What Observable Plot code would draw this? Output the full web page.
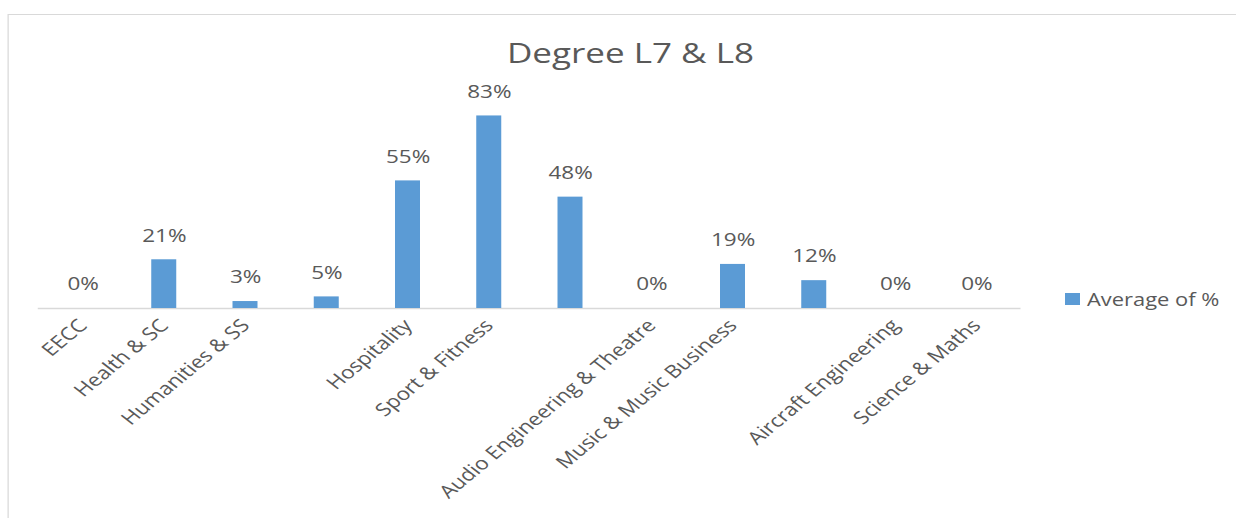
<!DOCTYPE html>
<html>
<head>
<meta charset="utf-8">
<script src="https://cdn.jsdelivr.net/npm/d3@7"></script>
<script src="https://cdn.jsdelivr.net/npm/@observablehq/plot@0.6"></script>
<style>
  html, body { margin: 0; padding: 0; background: #fff; overflow: hidden; width: 1236px; height: 518px; }
  #wrap { position: absolute; left: 0; top: 0; width: 989px; height: 518px;
          transform: scaleX(1.25); transform-origin: 0 0;
          font-family: "Open Sans", sans-serif; color: #595959; }
  #frame { position: absolute; left: 6.4px; top: 14px; width: 1000px; height: 600px;
           border: 1px solid #d9d9d9; box-sizing: border-box; }
  #title { position: absolute; left: 304.4px; width: 400px; top: 33px; text-align: center;
           font-size: 28px; line-height: normal; white-space: nowrap; }
  #legend { position: absolute; left: 852px; top: 287px; display: flex; align-items: center;
            font-size: 17.5px; line-height: normal; white-space: nowrap; }
  #legend .sw { width: 12px; height: 12px; background: #5B9BD5; margin-right: 5.6px; }
  #chart { position: absolute; left: 0; top: 0; }
</style>
</head>
<body>
<div id="wrap">
  <div id="frame"></div>
  <div id="chart"></div>
  <div id="title">Degree L7 &amp; L8</div>
  <div id="legend"><div class="sw"></div><span>Average of %</span></div>
</div>
<script>
const categories = ["EECC", "Health & SC", "Humanities & SS", "", "Hospitality", "Sport & Fitness", "", "Audio Engineering & Theatre", "Music & Music Business", "", "Aircraft Engineering", "Science & Maths"];
const values = [0, 21, 3, 5, 55, 83, 48, 0, 19, 12, 0, 0];
const seriesName = "Average of %";

const data = categories.map((c, i) => ({i, c, v: values[i]}));

const chart = Plot.plot({
  width: 989,
  height: 518,
  marginLeft: 30.2,
  marginRight: 172.6,
  marginTop: 76,
  marginBottom: 210,
  style: {fontFamily: "Open Sans, sans-serif", fontSize: "17.5px", color: "#595959", background: "transparent", overflow: "visible"},
  x: {type: "band", domain: d3.range(categories.length), paddingInner: 0.686, paddingOuter: 0.343},
  y: {domain: [0, 100], axis: null},
  marks: [
    Plot.ruleY([0], {stroke: "#d9d9d9", strokeWidth: 1.3}),
    Plot.barY(data, {x: "i", y: "v", fill: "#5B9BD5"}),
    Plot.text(data, {x: "i", y: "v", text: d => d.v + "%", dy: -24, fill: "#595959", fontSize: 18}),
    Plot.axisX({tickSize: 0, tickRotate: -46, tickPadding: 14, tickFormat: i => categories[i], fill: "#595959", fontSize: 18, label: null})
  ]
});
document.getElementById("chart").appendChild(chart);
</script>
</body>
</html>
